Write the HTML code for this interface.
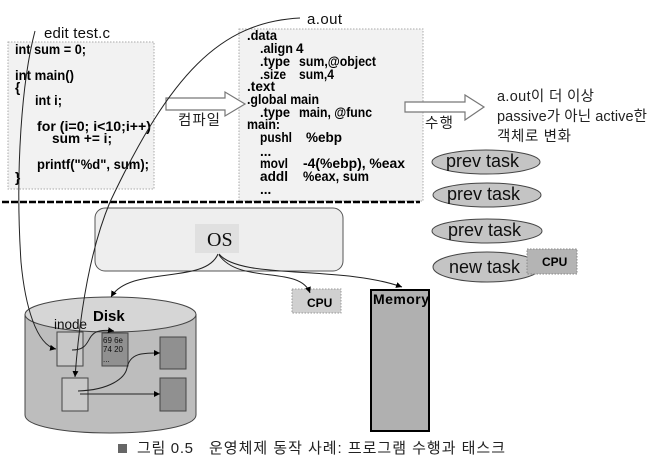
<!DOCTYPE html>
<html><head><meta charset="utf-8"><style>
html,body{margin:0;padding:0;background:#fff}
svg{display:block}
text{font-family:"Liberation Sans","Noto Sans CJK KR",sans-serif;fill:#111}
.b text{font-weight:bold;font-size:13.5px;fill:#000}
text.bd{font-weight:bold;fill:#000}
.k{font-size:14.5px;fill:#222}
</style></head><body>
<svg width="664" height="463" viewBox="0 0 664 463" xmlns="http://www.w3.org/2000/svg">
<defs>
<marker id="a" markerWidth="8" markerHeight="8" refX="6" refY="3" orient="auto" markerUnits="userSpaceOnUse"><path d="M0,0L6,3L0,6z" fill="#000"/></marker>
<filter id="s" x="-5%" y="-5%" width="110%" height="110%"><feGaussianBlur stdDeviation="0.35"/></filter>
</defs>
<g filter="url(#s)">
<rect x="8" y="42" width="146" height="147" fill="#f2f2f2" stroke="#aaa" stroke-dasharray="1.5 1.5"/>
<rect x="239" y="29" width="184" height="172" fill="#f2f2f2" stroke="#aaa" stroke-dasharray="1.5 1.5"/>
<path d="M166 98H225V92L245 104L225 116V110H166z" fill="#fff" stroke="#777" stroke-width="1.2"/>
<path d="M405 102H465V95L484 107L465 120V112H405z" fill="#fff" stroke="#777" stroke-width="1.2"/>
<g class="b">
<text x="15" y="54" textLength="71" lengthAdjust="spacingAndGlyphs">int sum = 0;</text>
<text x="15" y="80" textLength="59" lengthAdjust="spacingAndGlyphs">int main()</text>
<text x="15" y="92">{</text>
<text x="35" y="105" textLength="27" lengthAdjust="spacingAndGlyphs">int i;</text>
<text x="37" y="131" textLength="114" lengthAdjust="spacingAndGlyphs">for (i=0; i&lt;10;i++)</text>
<text x="52" y="143" textLength="60" lengthAdjust="spacingAndGlyphs">sum += i;</text>
<text x="37" y="169" textLength="112" lengthAdjust="spacingAndGlyphs">printf("%d", sum);</text>
<text x="15" y="182">}</text>
<text x="247" y="40" textLength="30" lengthAdjust="spacingAndGlyphs">.data</text>
<text x="260" y="53" textLength="33" lengthAdjust="spacingAndGlyphs">.align</text><text x="296" y="53">4</text>
<text x="260" y="66" textLength="30" lengthAdjust="spacingAndGlyphs">.type</text><text x="299" y="66" textLength="77" lengthAdjust="spacingAndGlyphs">sum,@object</text>
<text x="260" y="79" textLength="26" lengthAdjust="spacingAndGlyphs">.size</text><text x="299" y="79" textLength="35" lengthAdjust="spacingAndGlyphs">sum,4</text>
<text x="247" y="91" textLength="28" lengthAdjust="spacingAndGlyphs">.text</text>
<text x="247" y="104" textLength="72" lengthAdjust="spacingAndGlyphs">.global main</text>
<text x="260" y="117" textLength="30" lengthAdjust="spacingAndGlyphs">.type</text><text x="299" y="117" textLength="73" lengthAdjust="spacingAndGlyphs">main, @func</text>
<text x="247" y="129" textLength="33" lengthAdjust="spacingAndGlyphs">main:</text>
<text x="260" y="142" textLength="32" lengthAdjust="spacingAndGlyphs">pushl</text><text x="306" y="142" textLength="36" lengthAdjust="spacingAndGlyphs">%ebp</text>
<text x="260" y="156">...</text>
<text x="260" y="168" textLength="28" lengthAdjust="spacingAndGlyphs">movl</text><text x="303" y="168" textLength="102" lengthAdjust="spacingAndGlyphs">-4(%ebp), %eax</text>
<text x="260" y="181" textLength="28" lengthAdjust="spacingAndGlyphs">addl</text><text x="303" y="181" textLength="66" lengthAdjust="spacingAndGlyphs">%eax, sum</text>
<text x="260" y="194">...</text>
</g>
<text x="44" y="38" font-size="15" textLength="66">edit test.c</text>
<text x="307" y="24" font-size="15" textLength="35">a.out</text>
<text x="178" y="125" class="k" textLength="42">컴파일</text>
<text x="425" y="128" class="k" textLength="28">수행</text>
<text x="497" y="101" class="k" textLength="97">a.out이 더 이상</text>
<text x="497" y="121" class="k" textLength="150">passive가 아닌 active한</text>
<text x="497" y="141" class="k" textLength="74">객체로 변화</text>

<path d="M2 202H420" stroke="#000" stroke-width="2.6" stroke-dasharray="7 2"/>
<rect x="95" y="208" width="248" height="63" rx="10" fill="#eee" stroke="#555"/>
<rect x="195" y="224" width="44" height="29" fill="#e0e0e0"/>
<text x="207" y="246" font-size="20" style="font-family:'Liberation Serif',serif">OS</text>

<ellipse cx="486" cy="162" rx="54" ry="12" fill="#c4c4c4" stroke="#444"/>
<ellipse cx="487" cy="195" rx="54" ry="12" fill="#c4c4c4" stroke="#444"/>
<ellipse cx="487" cy="231" rx="55" ry="12" fill="#c4c4c4" stroke="#444"/>
<ellipse cx="487" cy="267" rx="54" ry="15" fill="#c4c4c4" stroke="#444"/>
<text x="446" y="167" font-size="18">prev task</text>
<text x="447" y="200" font-size="18">prev task</text>
<text x="448" y="236" font-size="18">prev task</text>
<text x="449" y="273" font-size="18">new task</text>
<rect x="527" y="249" width="50" height="25" fill="#b4b4b4" stroke="#888" stroke-dasharray="1.5 1.5"/>
<text x="542" y="266" class="bd" font-size="12">CPU</text>

<rect x="292" y="289" width="49" height="24" fill="#d0d0d0" stroke="#999" stroke-dasharray="1.5 1.5"/>
<text x="307" y="307" class="bd" font-size="12">CPU</text>
<rect x="371" y="290" width="58" height="141" fill="#b0b0b0" stroke="#000" stroke-width="2"/>
<text x="373" y="304" class="bd" font-size="14" textLength="56">Memory</text>

<path d="M25 314V415C25 426 63 433 110 433S196 426 196 415V314" fill="#bdbdbd" stroke="#444"/>
<ellipse cx="110.500" cy="314.500" rx="85.500" ry="17.500" fill="#d6d6d6" stroke="#444"/>
<text x="93" y="321" class="bd" font-size="15">Disk</text>
<text x="54" y="329" font-size="13.500">inode</text>
<rect x="57" y="332" width="26" height="34" fill="#c8c8c8" stroke="#444"/>
<rect x="102" y="333" width="26" height="33" fill="#909090" stroke="#444"/>
<text x="103" y="343" font-size="8" fill="#222" textLength="20" lengthAdjust="spacingAndGlyphs">69 6e</text>
<text x="103" y="352" font-size="8" fill="#222" textLength="20" lengthAdjust="spacingAndGlyphs">74 20</text>
<text x="103" y="362" font-size="8" fill="#222">...</text>
<rect x="160" y="337" width="26" height="32" fill="#909090" stroke="#444"/>
<rect x="62" y="378" width="26" height="33" fill="#c8c8c8" stroke="#444"/>
<rect x="160" y="378" width="26" height="33" fill="#909090" stroke="#444"/>

<g fill="none" stroke="#222" stroke-width="1">
<path d="M35 31C22 80 15 170 21 262C25 305 36 345 56 349" marker-end="url(#a)"/>
<path d="M300 18C220 22 170 75 110 202C90 250 80 310 75 377" marker-end="url(#a)"/>
<path d="M218 254C205 285 130 265 111 297" marker-end="url(#a)"/>
<path d="M219 255C240 285 300 265 310 293" marker-end="url(#a)"/>
<path d="M219 254C240 280 340 265 402 287" marker-end="url(#a)"/>
<path d="M72 350C97 350 80 326 114 331" marker-end="url(#a)"/>
<path d="M78 391C110 390 125 378 127 368C130 352 145 353 160 353" marker-end="url(#a)"/>
<path d="M80 394H160" marker-end="url(#a)"/>
</g>
<rect x="118" y="444" width="9" height="9" fill="#666"/>
<text x="137" y="453" class="k" style="font-size:15px" textLength="56">그림 0.5</text>
<text x="209" y="453" class="k" style="font-size:15px" textLength="296">운영체제 동작 사례: 프로그램 수행과 태스크</text>
</g>
</svg>
</body></html>
